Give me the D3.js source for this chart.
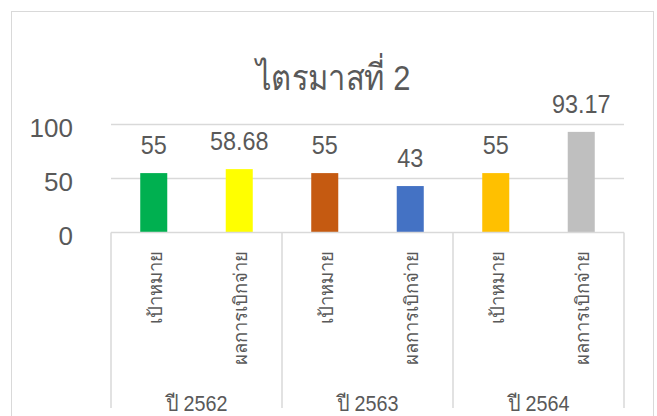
<!DOCTYPE html>
<html><head><meta charset="utf-8">
<script src="https://cdn.jsdelivr.net/npm/d3@7"></script>
<style>
body{margin:0;background:#fff;}
svg{display:block;}
text{font-family:"Liberation Sans",Arial,sans-serif;fill:#595959;}
</style></head><body>
<div id="chart"></div>
<script>
const title = "ไตรมาสที่ 2";
const groups = ["ปี 2562","ปี 2563","ปี 2564"];
const subCategories = ["เป้าหมาย","ผลการเบิกจ่าย"];
const values = [55, 58.68, 55, 43, 55, 93.17];
const valueLabels = ["55","58.68","55","43","55","93.17"];
const colors = ["#00b050","#ffff00","#c55a11","#4472c4","#ffc000","#bfbfbf"];
const yTicks = [0, 50, 100];

const W = 657, H = 416;
const svg = d3.select("#chart").append("svg").attr("width", W).attr("height", H);

// outer frame
svg.append("rect").attr("x", 11.5).attr("y", 11.5).attr("width", 642).attr("height", 420)
  .attr("fill", "#fff").attr("stroke", "#d9d9d9").attr("stroke-width", 1);

const rows = [];
groups.forEach((g, gi) => subCategories.forEach((s, si) => rows.push({group: g, sub: s, key: gi + "-" + si})));
rows.forEach((r, i) => { r.value = values[i]; r.label = valueLabels[i]; r.color = colors[i]; });

const x0 = 111, x1 = 624, yBase = 232.5, yTop = 124.5;
const x = d3.scaleBand().domain(rows.map(r => r.key)).range([x0, x1]).paddingInner(0.684).paddingOuter(0.342);
const xg = d3.scaleBand().domain(groups).range([x0, x1]);
const y = d3.scaleLinear().domain([0, 100]).range([yBase, yTop]);

// gridlines
svg.append("g").selectAll("line").data(yTicks.filter(t => t > 0)).join("line")
  .attr("x1", x0).attr("x2", x1).attr("y1", d => y(d)).attr("y2", d => y(d))
  .attr("stroke", "#d9d9d9").attr("stroke-width", 1.5);

// y tick labels
svg.append("g").selectAll("text").data(yTicks).join("text")
  .attr("x", 73).attr("y", d => y(d) + 12).attr("text-anchor", "end")
  .attr("font-size", 26).text(d => d);

// bars
svg.append("g").selectAll("rect").data(rows).join("rect")
  .attr("x", d => x(d.key)).attr("width", x.bandwidth())
  .attr("y", d => y(d.value)).attr("height", d => yBase - y(d.value))
  .attr("fill", d => d.color);

// value labels
svg.append("g").selectAll("text").data(rows).join("text")
  .attr("transform", d => `translate(${x(d.key) + x.bandwidth() / 2},${y(d.value) - 19}) scale(0.9,1)`)
  .attr("text-anchor", "middle").attr("font-size", 26).text(d => d.label);

// axis lines
const ax = svg.append("g").attr("stroke", "#d9d9d9").attr("stroke-width", 1.5);
ax.append("line").attr("x1", x0).attr("x2", x1).attr("y1", yBase).attr("y2", yBase);
const seps = groups.map(g => xg(g)).concat([x1]);
ax.selectAll("line.sep").data(seps).join("line").attr("class", "sep")
  .attr("x1", d => d).attr("x2", d => d).attr("y1", yBase).attr("y2", 408);

// sub category labels rotated
svg.append("g").selectAll("text").data(rows).join("text")
  .attr("transform", d => `translate(${x(d.key) + x.bandwidth() / 2 + 8},251) rotate(-90)`)
  .attr("text-anchor", "end").attr("font-size", 18.5).text(d => d.sub);

// group labels
svg.append("g").selectAll("text").data(groups).join("text")
  .attr("transform", d => `translate(${xg(d) + xg.bandwidth() / 2},411) scale(0.9,1)`)
  .attr("text-anchor", "middle").attr("font-size", 22).text(d => d);

// title
svg.append("text").attr("transform", "translate(333,90) scale(0.86,1)").attr("text-anchor", "middle")
  .attr("font-size", 36).text(title);
</script>
</body></html>
